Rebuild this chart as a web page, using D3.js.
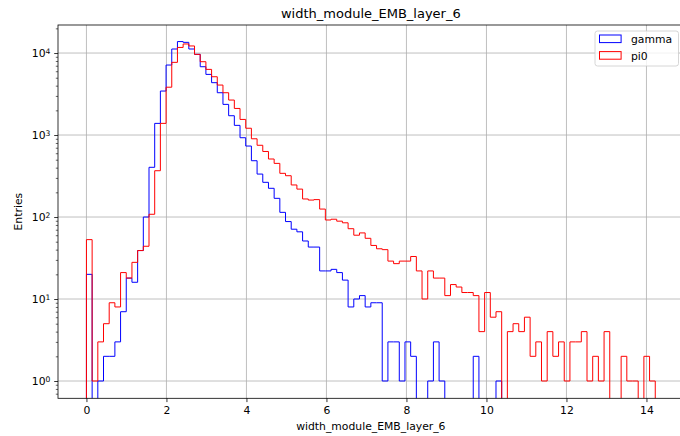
<!DOCTYPE html>
<html>
<head>
<meta charset="utf-8">
<script src="https://cdn.jsdelivr.net/npm/d3@7"></script>
<style>
  body { margin: 0; background: #fff; }
  svg { display: block; font-family: "DejaVu Sans", sans-serif; }
</style>
</head>
<body>
<svg id="chart" width="680" height="436"></svg>
<script>
// histogram binning: 100 bins starting at 0
const binCount = 100;
const binWidth = 0.1422;

// counts per bin
const gammaCounts = [
  20, 0, 1, 2, 2, 3, 7, 18, 16, 39,
  100, 404, 1387, 3440, 7140, 11200, 13800, 13500, 11200, 9640,
  6810, 5490, 4350, 3280, 2365, 1720, 1312, 927, 734, 486,
  334, 265, 224, 169, 114, 88, 71, 66, 51, 43,
  43, 22, 22, 23, 21, 17, 8, 10, 11, 8,
  9, 9, 1, 3, 3, 1, 3, 2, 0, 0,
  1, 3, 1, 0, 0, 0, 0, 0, 2, 0,
  0, 0, 1, 0, 0, 0, 0, 0, 0, 0,
  0, 0, 0, 0, 0, 0, 0, 0, 0, 0,
  0, 0, 0, 0, 0, 0, 0, 0, 0, 0
];
const pi0Counts = [
  53, 1, 3, 5, 9, 8, 21, 18, 28, 39,
  44, 108, 367, 1387, 3830, 7700, 11700, 12900, 12200, 9640,
  7840, 6320, 5140, 4070, 3280, 2670, 2110, 1550, 1210, 900,
  750, 630, 510, 451, 341, 319, 246, 219, 166, 161,
  163, 125, 92, 94, 89, 85, 72, 60, 64, 55,
  45, 41, 40, 29, 27, 29, 29, 33, 22, 10,
  22, 18, 18, 11, 15, 14, 12, 12, 11, 4,
  12, 6, 7, 0, 4, 5, 4, 6, 2, 3,
  1, 4, 2, 3, 1, 3, 3, 4, 1, 2,
  1, 4, 0, 0, 2, 1, 1, 0, 2, 1
];

const seriesNames = ["gamma", "pi0"];
const seriesColors = ["#0000ff", "#ff0000"];
const xTicks = [0, 2, 4, 6, 8, 10, 12, 14];
const yTicks = [1, 10, 100, 1000, 10000];
const titleText = "width_module_EMB_layer_6";
const xLabel = "width_module_EMB_layer_6";
const yLabel = "Entries";

const svg = d3.select("#chart");
const plotLeft = 58, plotRight = 683.7, plotTop = 25, plotBottom = 398.3;
const fs = 10.8;

const x = d3.scaleLinear().domain([-0.711, 14.931]).range([plotLeft, plotRight]);
const y = d3.scaleLog().domain([Math.pow(10, -0.211), Math.pow(10, 4.342)]).range([plotBottom, plotTop]);

svg.append("clipPath").attr("id", "plot")
  .append("rect")
  .attr("x", plotLeft).attr("y", plotTop)
  .attr("width", plotRight - plotLeft).attr("height", plotBottom - plotTop);

// grid
const grid = svg.append("g").attr("stroke", "#b0b0b0").attr("stroke-width", 0.8);
grid.selectAll("line.v").data(xTicks).join("line")
  .attr("class", "v")
  .attr("x1", d => x(d)).attr("x2", d => x(d))
  .attr("y1", plotTop).attr("y2", plotBottom);
grid.selectAll("line.h").data(yTicks).join("line")
  .attr("class", "h")
  .attr("x1", plotLeft).attr("x2", plotRight)
  .attr("y1", d => y(d)).attr("y2", d => y(d));

// step outlines
const floorVal = 0.01;
function stepPoints(counts) {
  const pts = [[0, floorVal]];
  counts.forEach((c, i) => pts.push([i * binWidth, c > 0 ? c : floorVal]));
  const last = counts[counts.length - 1];
  pts.push([binCount * binWidth, last > 0 ? last : floorVal]);
  pts.push([binCount * binWidth, floorVal]);
  return pts;
}

const step = d3.line()
  .x(d => x(d[0]))
  .y(d => Math.min(y(d[1]), plotBottom + 5))
  .curve(d3.curveStepAfter);

const hist = svg.append("g").attr("clip-path", "url(#plot)");
[gammaCounts, pi0Counts].forEach((counts, i) => {
  hist.append("path")
    .attr("d", step(stepPoints(counts)))
    .attr("fill", "none")
    .attr("stroke", seriesColors[i])
    .attr("stroke-width", 1);
});

// axes
const xAxis = svg.append("g")
  .attr("transform", `translate(0,${plotBottom})`)
  .call(d3.axisBottom(x).tickValues(xTicks).tickSize(3.8).tickPadding(3.8));
xAxis.select(".domain").remove();
xAxis.selectAll("text").attr("font-size", fs).attr("font-family", "DejaVu Sans").attr("fill", "#000");
xAxis.selectAll("line").attr("stroke", "#000").attr("stroke-width", 0.8);

const minorTicks = [];
for (let e = -1; e <= 4; e++) {
  for (let m = 2; m <= 9; m++) {
    const v = m * Math.pow(10, e);
    if (v >= y.domain()[0] && v <= y.domain()[1]) minorTicks.push(v);
  }
}
const yMinor = svg.append("g")
  .attr("transform", `translate(${plotLeft},0)`)
  .call(d3.axisLeft(y).tickValues(minorTicks).tickSize(2.2).tickFormat(""));
yMinor.select(".domain").remove();
yMinor.selectAll("line").attr("stroke", "#000").attr("stroke-width", 0.6);

const yAxis = svg.append("g")
  .attr("transform", `translate(${plotLeft},0)`)
  .call(d3.axisLeft(y).tickValues(yTicks).tickSize(3.8).tickPadding(3.8).tickFormat(() => "10"));
yAxis.select(".domain").remove();
yAxis.selectAll("line").attr("stroke", "#000").attr("stroke-width", 0.8);
yAxis.selectAll("text")
  .attr("font-size", fs).attr("font-family", "DejaVu Sans").attr("fill", "#000")
  .append("tspan")
  .attr("dy", "-0.45em")
  .attr("font-size", 7.6)
  .text(d => Math.round(Math.log10(d)));

// spines
svg.append("rect")
  .attr("x", plotLeft).attr("y", plotTop)
  .attr("width", plotRight - plotLeft).attr("height", plotBottom - plotTop)
  .attr("fill", "none").attr("stroke", "#000").attr("stroke-width", 0.8);

// labels
svg.append("text")
  .attr("x", (plotLeft + plotRight) / 2).attr("y", 18)
  .attr("text-anchor", "middle").attr("font-size", 13)
  .text(titleText);
svg.append("text")
  .attr("x", (plotLeft + plotRight) / 2).attr("y", 430)
  .attr("text-anchor", "middle").attr("font-size", fs)
  .text(xLabel);
svg.append("text")
  .attr("transform", `translate(22,${(plotTop + plotBottom) / 2}) rotate(-90)`)
  .attr("text-anchor", "middle").attr("font-size", fs)
  .text(yLabel);

// legend
const lg = svg.append("g");
lg.append("rect")
  .attr("x", 595).attr("y", 31).attr("width", 83.5).attr("height", 35)
  .attr("rx", 2.5)
  .attr("fill", "#fff").attr("fill-opacity", 0.8)
  .attr("stroke", "#cccccc").attr("stroke-width", 0.8);
seriesNames.forEach((name, i) => {
  const yy = 35 + i * 16.6;
  lg.append("rect")
    .attr("x", 599.5).attr("y", yy).attr("width", 21.6).attr("height", 7.6)
    .attr("fill", "none").attr("stroke", seriesColors[i]).attr("stroke-width", 1);
  lg.append("text")
    .attr("x", 631).attr("y", yy + 8.2)
    .attr("font-size", fs)
    .text(name);
});
</script>
</body>
</html>
